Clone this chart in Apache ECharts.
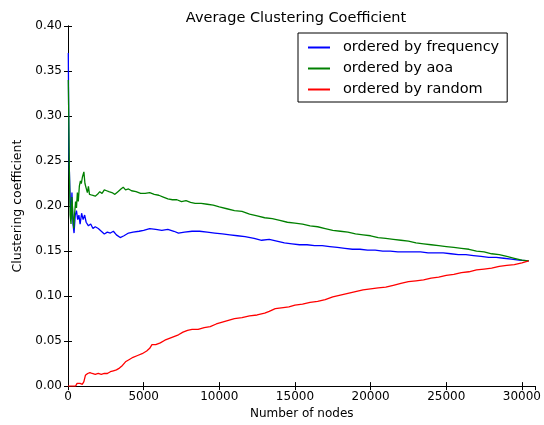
<!DOCTYPE html>
<html><head><meta charset="utf-8">
<script src="https://cdn.jsdelivr.net/npm/echarts@6/dist/echarts.min.js"></script>
<style>html,body{margin:0;padding:0;background:#fff}#c{width:544px;height:425px}</style>
</head><body><div id="c"></div>
<script>
const xTicks = [0, 5000, 10000, 15000, 20000, 25000, 30000];
const yTicks = [0.00, 0.05, 0.10, 0.15, 0.20, 0.25, 0.30, 0.35, 0.40];
const seriesNames = ['ordered by frequency', 'ordered by aoa', 'ordered by random'];

const freqX = [20,60,120,200,260,330,400,480,560,640,720,800,900,1000,1100,1200,1350,1500,1650,1800,2000,2200,2400,2600,2800,3000,3200,3450,3700,4000,4300,4700,5000,5400,5800,6200,6600,7000,7300,7700,8200,8700,9200,9700,10200,10700,11200,11700,12300,12800,13300,13800,14300,14800,15300,15800,16300,16800,17300,17800,18300,18800,19300,19800,20300,20800,21300,21800,22300,22800,23300,23800,24300,24800,25300,25800,26300,26800,27300,27800,28300,28800,29300,29800,30450];
const freqY = [0.37,0.26,0.22,0.185,0.215,0.18,0.17,0.19,0.195,0.185,0.19,0.18,0.192,0.185,0.19,0.182,0.178,0.18,0.175,0.177,0.175,0.172,0.169,0.171,0.17,0.172,0.168,0.165,0.167,0.17,0.171,0.172,0.173,0.175,0.174,0.173,0.174,0.172,0.17,0.171,0.172,0.172,0.171,0.170,0.169,0.168,0.167,0.166,0.164,0.162,0.163,0.161,0.159,0.158,0.157,0.157,0.156,0.156,0.155,0.154,0.153,0.152,0.152,0.151,0.151,0.150,0.150,0.149,0.149,0.149,0.149,0.148,0.148,0.148,0.147,0.146,0.146,0.145,0.144,0.143,0.143,0.142,0.141,0.140,0.139];

const aoaX = [20,50,90,140,200,260,320,380,430,500,560,620,680,750,820,880,950,1050,1120,1200,1280,1350,1420,1500,1600,1700,1800,1950,2100,2250,2400,2550,2700,2900,3100,3300,3500,3650,3800,4000,4200,4500,4800,5100,5400,5700,6000,6300,6600,6900,7200,7500,7800,8100,8400,8800,9200,9600,10000,10500,11000,11500,12000,12500,13000,13500,14000,14500,15000,15500,16000,16500,17000,17500,18000,18500,19000,19500,20000,20500,21000,21500,22000,22500,23000,23500,24000,24500,25000,25500,26000,26500,27000,27500,28000,28500,29000,29500,30000,30450];
const aoaY = [0.34,0.30,0.24,0.19,0.18,0.21,0.19,0.175,0.19,0.205,0.198,0.215,0.205,0.222,0.228,0.225,0.232,0.238,0.225,0.22,0.215,0.222,0.213,0.215,0.212,0.214,0.211,0.213,0.216,0.214,0.218,0.217,0.216,0.215,0.213,0.216,0.219,0.221,0.218,0.219,0.217,0.216,0.214,0.214,0.215,0.213,0.212,0.21,0.208,0.207,0.207,0.205,0.206,0.204,0.203,0.203,0.202,0.201,0.199,0.197,0.195,0.194,0.191,0.189,0.187,0.186,0.184,0.182,0.181,0.180,0.178,0.177,0.175,0.173,0.172,0.171,0.169,0.168,0.167,0.165,0.164,0.163,0.162,0.161,0.159,0.158,0.157,0.156,0.155,0.154,0.153,0.152,0.150,0.149,0.147,0.146,0.144,0.142,0.140,0.139];

const randX = [0,500,600,800,950,1050,1150,1300,1450,1600,1800,2000,2200,2400,2600,2800,3000,3200,3400,3600,3800,4000,4300,4600,4900,5200,5400,5550,5800,6100,6400,6700,7000,7300,7600,7900,8200,8600,9000,9400,9800,10200,10600,11000,11500,12000,12500,13000,13300,13700,14100,14600,15000,15500,16000,16500,17000,17500,18000,18500,19000,19500,20000,20500,21000,21500,22000,22500,23000,23500,24000,24500,25000,25500,26000,26500,27000,27500,28000,28500,29000,29500,30000,30450];
const randY = [0,0,0.003,0.003,0.002,0.005,0.012,0.014,0.015,0.014,0.013,0.014,0.013,0.014,0.014,0.016,0.017,0.018,0.020,0.023,0.027,0.029,0.032,0.034,0.036,0.039,0.042,0.046,0.046,0.048,0.051,0.053,0.055,0.057,0.060,0.062,0.063,0.063,0.065,0.066,0.069,0.071,0.073,0.075,0.076,0.078,0.079,0.081,0.083,0.086,0.087,0.088,0.090,0.091,0.093,0.094,0.096,0.099,0.101,0.103,0.105,0.107,0.108,0.109,0.110,0.112,0.114,0.116,0.117,0.118,0.120,0.121,0.123,0.124,0.126,0.127,0.129,0.130,0.131,0.133,0.134,0.135,0.137,0.139];

const colors = ['#0000ff', '#008000', '#ff0000'];
const zip = (xs, ys) => xs.map((x, i) => [x, ys[i]]);
const datasets = [zip(freqX, freqY), zip(aoaX, aoaY), zip(randX, randY)];

const FONT = 'DejaVu Sans';
const xMax = 30900;
const tickStyle = { show: true, inside: true, length: 4, lineStyle: { color: '#000', width: 1 } };
const lineStyle = { color: '#000', width: 1 };

const chart = echarts.init(document.getElementById('c'), null, { renderer: 'canvas' });
chart.setOption({
  animation: false,
  backgroundColor: '#fff',
  title: {
    text: 'Average Clustering Coefficient',
    left: 291, top: 6, textAlign: 'center',
    textStyle: { fontFamily: FONT, fontSize: 14.5, fontWeight: 'normal', color: '#000' }
  },
  legend: {
    orient: 'vertical', left: 298, top: 33,
    padding: [7, 8, 5, 10],
    borderColor: '#000', borderWidth: 1, backgroundColor: '#fff',
    itemWidth: 22, itemHeight: 2, itemGap: 6,
    icon: 'rect',
    textStyle: { fontFamily: FONT, fontSize: 14.5, color: '#000', padding: [0, 0, 0, 8] },
    data: seriesNames.map((n, i) => ({ name: n, icon: 'rect', itemStyle: { color: colors[i], borderWidth: 0 } }))
  },
  grid: { left: 68, right: 7, top: 26, bottom: 36, containLabel: false },
  xAxis: [{
    type: 'value', min: 0, max: xMax, interval: 5000,
    name: 'Number of nodes', nameLocation: 'middle', nameGap: 21,
    nameTextStyle: { fontFamily: FONT, fontSize: 12, color: '#000' },
    axisLine: { show: true, lineStyle }, axisTick: tickStyle,
    splitLine: { show: false },
    axisLabel: { fontFamily: FONT, fontSize: 12, color: '#000', margin: 5, showMaxLabel: false,
      formatter: v => (xTicks.indexOf(v) >= 0 ? String(v) : '') }
  }, {
    type: 'value', position: 'top', min: 0, max: xMax, interval: 5000,
    axisLine: { show: true, lineStyle }, axisTick: tickStyle,
    axisLabel: { show: false }, splitLine: { show: false }
  }],
  yAxis: [{
    type: 'value', min: 0, max: 0.4, interval: 0.05,
    name: 'Clustering coefficient', nameLocation: 'middle', nameGap: 44,
    nameTextStyle: { fontFamily: FONT, fontSize: 12.5, color: '#000' },
    axisLine: { show: true, lineStyle }, axisTick: tickStyle,
    splitLine: { show: false },
    axisLabel: { fontFamily: FONT, fontSize: 12, color: '#000', margin: 6,
      formatter: v => { const t = yTicks.find(y => Math.abs(y - v) < 1e-9); return t === undefined ? '' : t.toFixed(2); } }
  }, {
    type: 'value', position: 'right', min: 0, max: 0.4, interval: 0.05,
    axisLine: { show: true, lineStyle }, axisTick: tickStyle,
    axisLabel: { show: false }, splitLine: { show: false }
  }],
  series: seriesNames.map((n, i) => ({
    name: n, type: 'line', data: datasets[i], showSymbol: false, symbol: 'none',
    xAxisIndex: 0, yAxisIndex: 0, color: colors[i],
    lineStyle: { color: colors[i], width: 1.3 }, itemStyle: { color: colors[i] },
    z: 2 + i
  }))
});
</script></body></html>
